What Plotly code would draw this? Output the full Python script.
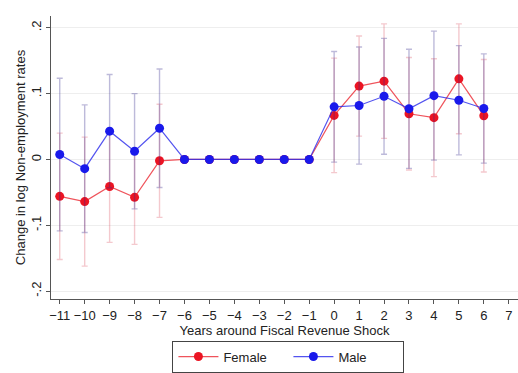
import plotly.graph_objects as go

# Event-time grid (years relative to the fiscal revenue shock)
years = [-11, -10, -9, -8, -7, -6, -5, -4, -3, -2, -1, 0, 1, 2, 3, 4, 5, 6]

# Point estimates
female = [-0.056, -0.064, -0.041, -0.0575, -0.002, 0, 0, 0, 0, 0, 0,
          0.067, 0.1115, 0.119, 0.0695, 0.0635, 0.1225, 0.0665]
male = [0.0075, -0.014, 0.043, 0.0125, 0.0475, 0, 0, 0, 0, 0, 0,
        0.080, 0.082, 0.096, 0.077, 0.097, 0.090, 0.0775]

# Half-widths of the confidence intervals
female_ci = [0.096, 0.098, 0.085, 0.0715, 0.086, 0, 0, 0, 0, 0, 0,
             0.087, 0.076, 0.087, 0.0855, 0.0895, 0.0835, 0.0855]
male_ci = [0.116, 0.097, 0.086, 0.0875, 0.09, 0, 0, 0, 0, 0, 0,
           0.084, 0.089, 0.088, 0.0905, 0.098, 0.083, 0.083]

# Axis ticks
x_ticks = list(range(-11, 8))
y_ticks = [-0.2, -0.1, 0, 0.1, 0.2]
y_tick_text = ["-.2", "-.1", "0", ".1", ".2"]

RED = "rgb(235,20,35)"
BLUE = "rgb(25,25,235)"

fig = go.Figure()

fig.add_trace(go.Scatter(
    x=years, y=female, name="Female", mode="lines+markers",
    line=dict(color="rgba(235,40,50,0.8)", width=1.2),
    marker=dict(color=RED, size=9),
    error_y=dict(type="data", array=female_ci, visible=True,
                 color="rgba(215,60,80,0.28)", thickness=1.4, width=3),
))
fig.add_trace(go.Scatter(
    x=years, y=male, name="Male", mode="lines+markers",
    line=dict(color="rgba(40,40,235,0.8)", width=1.2),
    marker=dict(color=BLUE, size=9),
    error_y=dict(type="data", array=male_ci, visible=True,
                 color="rgba(50,40,140,0.32)", thickness=1.4, width=3),
))

font = dict(family="Liberation Sans, Arial, sans-serif", size=13, color="#222")

fig.update_layout(
    width=518, height=373,
    margin=dict(l=51, r=0, t=16, b=70),
    paper_bgcolor="white", plot_bgcolor="white",
    font=font,
    showlegend=True,
    legend=dict(
        orientation="h", x=0.26, xanchor="left", y=-0.147, yanchor="top",
        bordercolor="#444", borderwidth=1, bgcolor="white",
        font=dict(size=13, color="#222"),
        entrywidth=60, itemwidth=40, tracegroupgap=0,
    ),
    xaxis=dict(
        range=[-11.35, 7.37], tickmode="array", tickvals=x_ticks,
        showgrid=False, zeroline=False,
        showline=True, linecolor="#555", linewidth=1,
        ticks="outside", ticklen=4, tickcolor="#555",
        title=dict(text="Years around Fiscal Revenue Shock", standoff=0,
                   font=dict(size=13)),
        tickfont=dict(size=13),
    ),
    yaxis=dict(
        range=[-0.212, 0.218], tickmode="array", tickvals=y_ticks,
        ticktext=y_tick_text, tickangle=-90,
        showgrid=True, gridcolor="#eeeeee", gridwidth=1, zeroline=False,
        showline=True, linecolor="#555", linewidth=1,
        ticks="outside", ticklen=4, tickcolor="#555",
        title=dict(text="Change in log Non-employment rates", standoff=0,
                   font=dict(size=13)),
        tickfont=dict(size=13),
    ),
)

fig.write_html("out.html")
